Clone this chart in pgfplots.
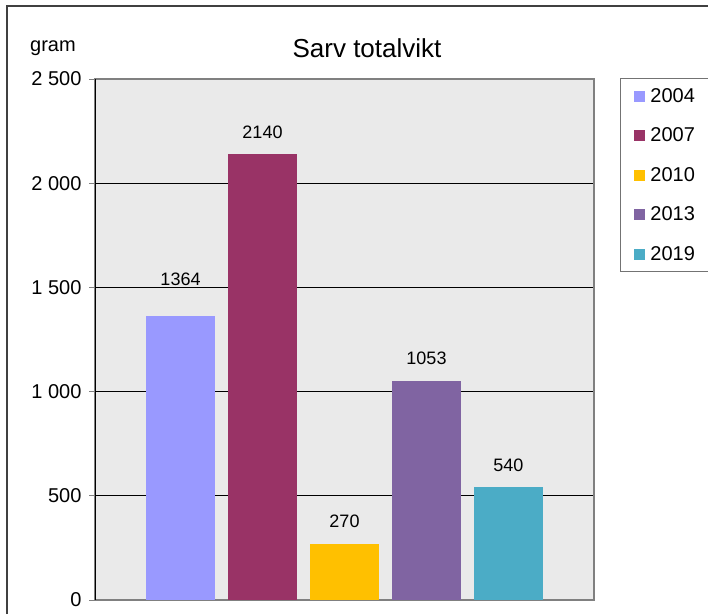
\documentclass[border=0pt]{standalone}
\usepackage{pgfplots}
\pgfplotsset{compat=1.18}
\usepackage{fontspec}
\setmainfont{Liberation Sans}
\definecolor{bggray}{RGB}{234,234,234}
\definecolor{c2004}{RGB}{153,153,255}
\definecolor{c2007}{RGB}{153,51,102}
\definecolor{c2010}{RGB}{255,192,0}
\definecolor{c2013}{RGB}{128,100,162}
\definecolor{c2019}{RGB}{75,172,198}
\pgfplotsset{
  sq/.style={draw=none, bar shift=0pt,
    legend image code/.code={\fill[##1] (0pt,-5.5pt) rectangle (11pt,5.5pt);}},
}
\begin{document}
\begin{tikzpicture}[x=1pt,y=1pt]
\path[use as bounding box] (0,0) rectangle (708,-614);
\draw[black!75, line width=1.5pt] (7,-614) -- (7,-6) -- (708,-6);
\node[font=\fontsize{20}{24}\selectfont] at (53,-48) {gram};
\node[font=\fontsize{26}{30}\selectfont] at (367,-48) {Sarv totalvikt};
\begin{axis}[
  at={(95pt,-600pt)}, anchor=south west,
  scale only axis, width=499pt, height=521pt,
  ybar, bar width=69pt, bar shift=0pt,
  xmin=-1.043, xmax=5.043, ymin=0, ymax=2500,
  xtick=\empty,
  ytick={0,500,1000,1500,2000,2500},
  yticklabels={0,500,1 000,1 500,2 000,2 500},
  ytick pos=left,
  yticklabel style={font=\fontsize{20}{24}\selectfont, xshift=-4pt},
  tick align=outside, major tick length=6pt,
  tick style={gray, line width=0.8pt},
  ymajorgrids, major grid style={black, line width=0.8pt},
  axis line style={gray, line width=1.5pt},
  axis background/.style={fill=bggray},
  /pgf/number format/1000 sep={},
  /pgf/number format/assume math mode=true,
  nodes near coords,
  every node near coord/.append style={font=\fontsize{18}{22}\selectfont, anchor=center, yshift=22pt},
  legend style={at={(1.052,1.002)}, anchor=north west, draw=gray!90!black, line width=1pt,
    fill=white, font=\fontsize{20}{24}\selectfont, row sep=20pt,
    inner ysep=8pt, inner xsep=14pt, nodes={text width=62pt},
    /tikz/every odd column/.append style={column sep=3pt}},
  legend cell align=left,
]
\addplot[sq, fill=c2004, every node near coord/.append style={yshift=14pt}] coordinates {(0,1364)};
\addplot[sq, fill=c2007] coordinates {(1,2140)};
\addplot[sq, fill=c2010] coordinates {(2,270)};
\addplot[sq, fill=c2013] coordinates {(3,1053)};
\addplot[sq, fill=c2019] coordinates {(4,540)};
\legend{2004,2007,2010,2013,2019}
\draw[black, line width=1.2pt] (rel axis cs:0,0) -- (rel axis cs:0,1);
\end{axis}
\end{tikzpicture}
\end{document}
